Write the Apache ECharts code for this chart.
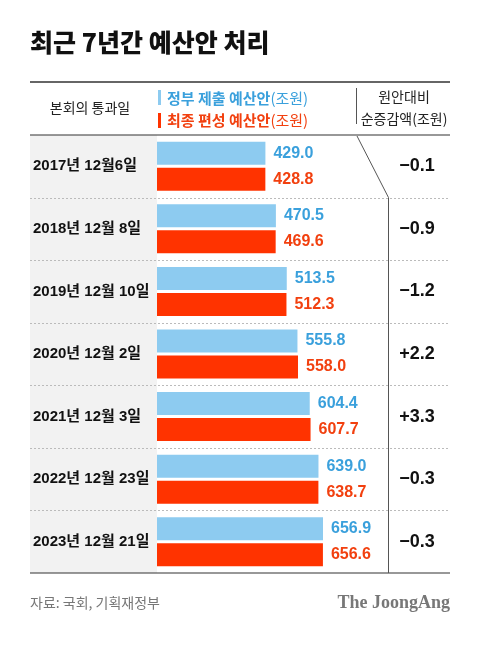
<!DOCTYPE html>
<html><head><meta charset="utf-8">
<script src="https://cdn.jsdelivr.net/npm/echarts@6/dist/echarts.min.js"></script>
<style>html,body{margin:0;padding:0;background:#fff}#c{width:480px;height:652px}</style>
</head><body><div id="c"></div>
<script>
const categories = ['2017년 12월6일','2018년 12월 8일','2019년 12월 10일','2020년 12월 2일','2021년 12월 3일','2022년 12월 23일','2023년 12월 21일'];
const govProposal = [429.0, 470.5, 513.5, 555.8, 604.4, 639.0, 656.9];
const finalBudget = [428.8, 469.6, 512.3, 558.0, 607.7, 638.7, 656.6];
const netChange = [-0.1, -0.9, -1.2, 2.2, 3.3, -0.3, -0.3];

const FONT = '"Noto Sans CJK KR","Noto Sans",sans-serif';
const NUMFONT = '"Liberation Sans","Noto Sans CJK KR",sans-serif';
const fmtChange = v => (v > 0 ? '+' : '\u2212') + Math.abs(v).toFixed(1);

const L = 30, R = 450, TOP = 135, BOT = 573, GL = 157;
const rowH = (BOT - TOP) / categories.length;
const gfx = [];
gfx.push({type:'rect', shape:{x:L, y:TOP, width:GL-L, height:BOT-TOP}, style:{fill:'#f2f2f2'}, z:-10});
for (let i = 1; i < categories.length; i++) {
  const y = Math.round(TOP + rowH*i) + 0.5;
  gfx.push({type:'line', shape:{x1:L, y1:y, x2:R, y2:y}, style:{stroke:'#bbb', lineWidth:1, lineDash:[2,2]}, z:-5});
}
gfx.push({type:'line', shape:{x1:L, y1:82, x2:R, y2:82}, style:{stroke:'#333', lineWidth:1.5}});
gfx.push({type:'line', shape:{x1:L, y1:TOP, x2:R, y2:TOP}, style:{stroke:'#333', lineWidth:1.2}});
gfx.push({type:'line', shape:{x1:L, y1:BOT, x2:R, y2:BOT}, style:{stroke:'#333', lineWidth:1.2}});
gfx.push({type:'line', shape:{x1:356.5, y1:88, x2:356.5, y2:124}, style:{stroke:'#555', lineWidth:1}});
gfx.push({type:'polyline', shape:{points:[[357,136],[388.5,TOP+rowH],[388.5,BOT]]}, style:{stroke:'#555', lineWidth:1, fill:null}});
gfx.push({type:'text', left:30, top:30, style:{text:'최근 7년간 예산안 처리', font:'900 25px '+FONT, fill:'#111'}});
gfx.push({type:'text', x:90, y:108, style:{text:'본회의 통과일', font:'14px '+FONT, fill:'#222', align:'center', verticalAlign:'middle'}});
gfx.push({type:'text', x:404, y:97, style:{text:'원안대비', font:'14px '+FONT, fill:'#222', align:'center', verticalAlign:'middle'}});
gfx.push({type:'text', x:404, y:119, style:{text:'순증감액(조원)', font:'14px '+FONT, fill:'#222', align:'center', verticalAlign:'middle'}});
gfx.push({type:'rect', shape:{x:158, y:90, width:3, height:15}, style:{fill:'#8dcbf0'}});
gfx.push({type:'rect', shape:{x:158, y:113, width:3, height:15}, style:{fill:'#ff3300'}});
gfx.push({type:'text', x:167, y:98, style:{text:'{b|정부 제출 예산안}{n|(조원)}', verticalAlign:'middle',
  rich:{b:{font:'bold 15px '+FONT, fill:'#3aa0dc'}, n:{font:'15px '+FONT, fill:'#3aa0dc'}}}});
gfx.push({type:'text', x:167, y:120, style:{text:'{b|최종 편성 예산안}{n|(조원)}', verticalAlign:'middle',
  rich:{b:{font:'bold 15px '+FONT, fill:'#f2400f'}, n:{font:'15px '+FONT, fill:'#f2400f'}}}});
gfx.push({type:'text', x:30, y:603, style:{text:'자료: 국회, 기획재정부', font:'14px '+FONT, fill:'#777', verticalAlign:'middle'}});
gfx.push({type:'text', x:450, y:603, style:{text:'The JoongAng', font:'bold 18px "Liberation Serif","DejaVu Serif",serif', fill:'#777', align:'right', verticalAlign:'middle'}});

const maxV = 700, pxPer = 0.2527;
const gridW = maxV * pxPer;
const chart = echarts.init(document.getElementById('c'), null, {renderer:'canvas'});
chart.setOption({
  animation:false,
  grid:{left:GL, top:TOP, height:BOT-TOP, width:gridW, containLabel:false},
  xAxis:{type:'value', min:0, max:maxV, show:false},
  yAxis:[
    {type:'category', data:categories, inverse:true, axisLine:{show:false}, axisTick:{show:false},
     axisLabel:{margin:GL-33, align:'left', fontWeight:'bold', fontSize:15, fontFamily:NUMFONT, color:'#111'}},
    {type:'category', data:netChange.map(fmtChange), inverse:true, position:'right', axisLine:{show:false}, axisTick:{show:false},
     axisLabel:{margin:417-(GL+gridW), align:'center', fontWeight:'bold', fontSize:18, fontFamily:NUMFONT, color:'#111'}}
  ],
  series:[
    {type:'bar', data:govProposal, barWidth:23, barGap:'13%', itemStyle:{color:'#8dcbf0'},
     label:{show:true, position:'right', distance:8, formatter:p=>p.value.toFixed(1), fontSize:16, fontWeight:'bold', fontFamily:NUMFONT, color:'#3aa0dc'}},
    {type:'bar', data:finalBudget, barWidth:23, barGap:'13%', itemStyle:{color:'#ff3300'},
     label:{show:true, position:'right', distance:8, formatter:p=>p.value.toFixed(1), fontSize:16, fontWeight:'bold', fontFamily:NUMFONT, color:'#f2400f'}}
  ],
  graphic:gfx
});
</script></body></html>
